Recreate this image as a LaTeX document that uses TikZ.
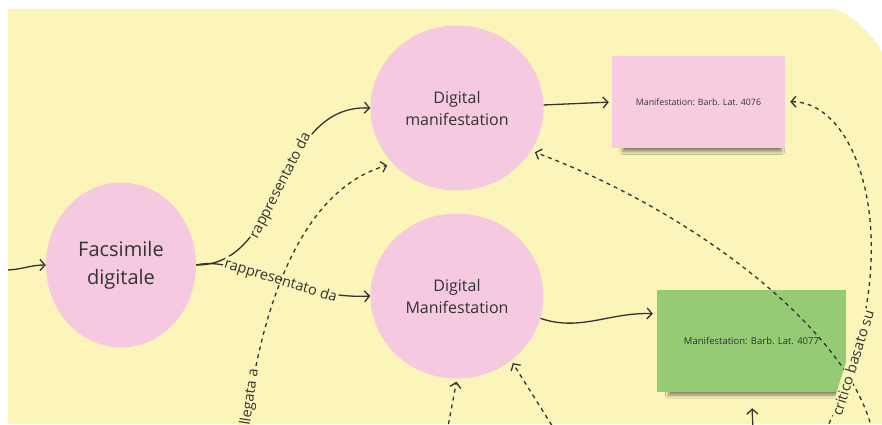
\documentclass[tikz,border=0pt]{standalone}
\usepackage{fontspec}
\setmainfont{Open Sans}
\usetikzlibrary{shapes.geometric,arrows.meta,shadows.blur}

\definecolor{bgyellow}{HTML}{FBF5B9}
\definecolor{bubblepink}{HTML}{F5C9DF}
\definecolor{notepink}{HTML}{F8CCE0}
\definecolor{notegreen}{HTML}{94CB74}
\definecolor{inkgray}{HTML}{333333}

\begin{document}
\begin{tikzpicture}[x=1pt,y=1pt,
    bubble/.style={ellipse,fill=bubblepink,draw=none,text=inkgray,align=center,inner sep=0pt},
    note/.style={rectangle,draw=none,text=inkgray,inner sep=0pt,
      blur shadow={shadow xshift=4pt,shadow yshift=-8pt,shadow scale=0.92,shadow opacity=45,shadow blur radius=3pt,shadow blur steps=10}},
    link/.style={draw=inkgray,line width=1.3pt,-{Straight Barb[length=5pt,width=11pt]}},
    dlink/.style={link,dash pattern=on 4pt off 4pt},
    lbl/.style={sloped,fill=bgyellow,inner sep=1pt,text=inkgray,font=\fontsize{14.5}{16}\selectfont}]

    % Draw the board
    \useasboundingbox (0,0) rectangle (882,424);
    \clip (0,0) rectangle (882,424);
    \fill[white] (0,0) rectangle (882,424);
    \fill[bgyellow] (8,0) -- (8,415) -- (834,415) .. controls (852,410) and (872,390) .. (882,372) -- (882,0) -- cycle;

    % Draw the circles
    \node[bubble,minimum width=150pt,minimum height=165pt,font=\fontsize{20}{28}\selectfont] (fac) at (121,159) {Facsimile\\digitale};
    \node[bubble,minimum width=173pt,minimum height=165pt,font=\fontsize{16}{22}\selectfont] (dm1) at (457,316) {Digital\\manifestation};
    \node[bubble,minimum width=173pt,minimum height=165pt,font=\fontsize{16}{22}\selectfont] (dm2) at (457,128) {Digital\\Manifestation};

    % Draw the two notes
    \node[note,fill=notepink,minimum width=173pt,minimum height=92pt,font=\fontsize{8.8}{10}\selectfont] (m4076) at (698.5,322) {Manifestation: Barb. Lat. 4076};
    \node[note,fill=notegreen,minimum width=189pt,minimum height=102pt,font=\fontsize{9.5}{11}\selectfont] (m4077) at (751.5,83) {Manifestation: Barb. Lat. 4077};

    % Loose ends outside the board
    \coordinate (inL) at (8,154);
    \coordinate (cA) at (244,-21);
    \coordinate (cB) at (872,-6);
    \coordinate (cC) at (822,-14);
    \coordinate (cD) at (447,-8);
    \coordinate (cE) at (556,-8);
    \coordinate (cF) at (753,-8);

    % Solid arrows
    \draw[link] (inL) to[out=3,in=180] (fac.west);
    \draw[link] (fac.east) .. controls (285,158) and (275,320) .. (dm1.west) node[lbl,pos=0.5] {rappresentato da};
    \draw[link] (fac.east) .. controls (235,169) and (300,124) .. (dm2.west) node[lbl,pos=0.55] {rappresentato da};
    \draw[link,shorten >=3pt] (dm1.2) -- (m4076.west);
    \draw[link,shorten >=4pt] (dm2.-15) .. controls (580,92) and (610,112) .. (m4077.164);

    % Dashed arrows
    \draw[dlink,shorten >=6pt] (cA) .. controls (258,114) and (300,234) .. (dm1.221) node[lbl,pos=0.1] {collegata a};
    \draw[dlink,shorten >=4pt] (cB) .. controls (850,90) and (700,210) .. (dm1.-30);
    \draw[dlink,shorten >=5pt] (cC) .. controls (915,170) and (860,324) .. (m4076.east) node[lbl,pos=0.14] {critico basato su};
    \draw[dlink,shorten >=3pt] (cD) -- (dm2.south);
    \draw[dlink,shorten >=3pt] (cE) -- (dm2.310);
    \draw[link,shorten >=16pt] (cF) -- (m4077.south);

\end{tikzpicture}
\end{document}
